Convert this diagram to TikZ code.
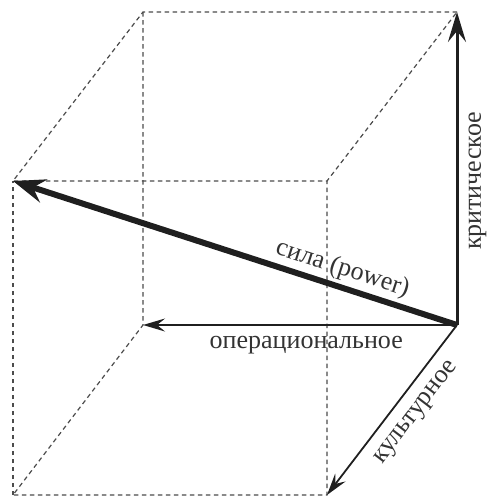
\documentclass[tikz,border=0pt]{standalone}
\usepackage{fontspec}
\setmainfont{Liberation Serif}
\usetikzlibrary{arrows.meta}
\begin{document}
\begin{tikzpicture}[x=1pt, y=-1pt,
    edge/.style={black!70, line width=1.2pt, dash pattern=on 4.5pt off 3.5pt},
    axis/.style={black!88, line width=1.8pt, -{Stealth[length=22pt, width=13pt, inset=8pt]}},
    lbl/.style={font=\fontsize{26}{30}\selectfont, text=black!80, inner sep=3pt}]
    \useasboundingbox (0,0) rectangle (490,504);
    % Cube corners
    \coordinate (o) at (457,325);
    \coordinate (top) at (457,12);
    \coordinate (left) at (143,325);
    \coordinate (front) at (327,495);
    \coordinate (topleft) at (143,12);
    \coordinate (topfront) at (327,181);
    \coordinate (leftfront) at (13,495);
    \coordinate (far) at (13,181);

    % Dashed edges
    \draw[edge] (top) -- (topleft) -- (far) -- (topfront) -- cycle;
    \draw[edge] (topleft) -- (left) -- (leftfront) -- (front) -- (topfront);
    \draw[edge] (leftfront) -- (far);

    % Axes
    \draw[axis, line width=3pt, -{Stealth[length=30pt, width=18pt, inset=11pt]}]
        (o) -- node[lbl, sloped, below=7pt, pos=0.46] (crit) {критическое} (top);
    \draw[axis] (o) -- node[lbl, below=7pt, pos=0.48] (oper) {операциональное} (left);
    \draw[axis] (o) -- node[lbl, sloped, below=9pt, pos=0.44] (cult) {культурное} (front);
    \draw[axis, line width=6pt, -{Stealth[length=32pt, width=24pt, inset=11pt]}]
        (o) -- node[lbl, sloped, above, pos=0.27] (pow) {сила (power)} (far);
\end{tikzpicture}
\end{document}
